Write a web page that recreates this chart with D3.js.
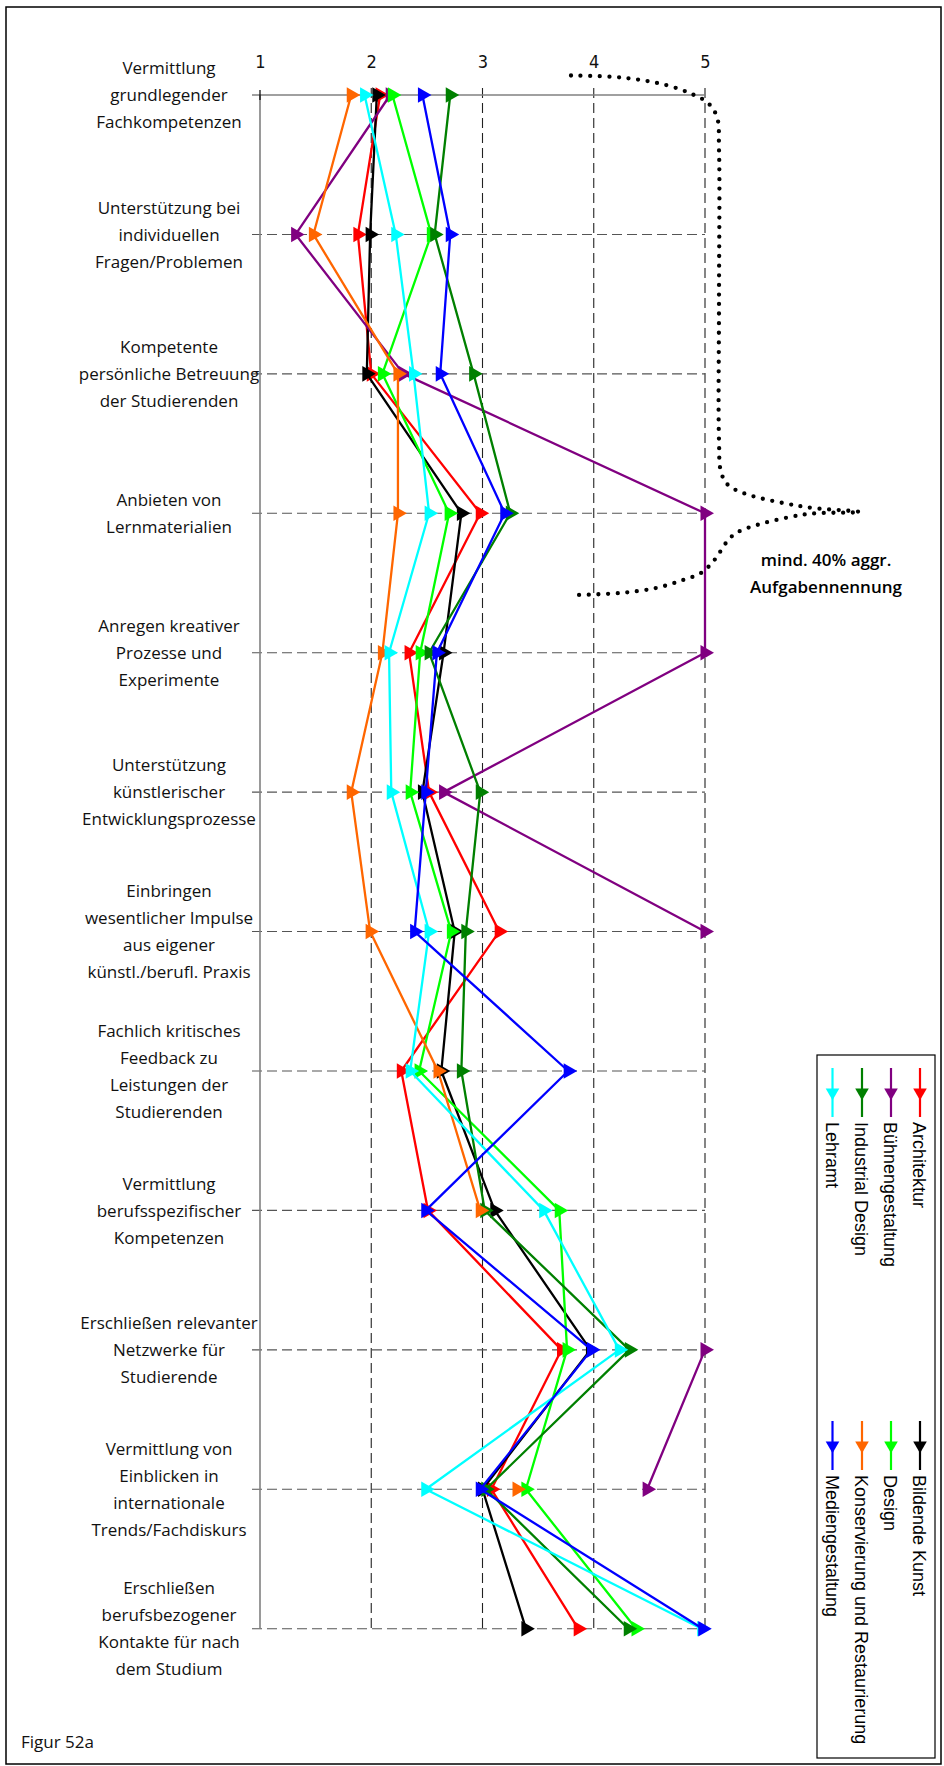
<!DOCTYPE html>
<html>
<head>
<meta charset="utf-8">
<script src="https://cdn.jsdelivr.net/npm/d3@7"></script>
<style>
  html, body { margin: 0; padding: 0; background: #fff; }
  svg { display: block; }
</style>
</head>
<body>
<svg id="chart" width="944" height="1766"></svg>
<script>
// ---------- DATA ----------
const categories = [
  ["Vermittlung", "grundlegender", "Fachkompetenzen"],
  ["Unterstützung bei", "individuellen", "Fragen/Problemen"],
  ["Kompetente", "persönliche Betreuung", "der Studierenden"],
  ["Anbieten von", "Lernmaterialien"],
  ["Anregen kreativer", "Prozesse und", "Experimente"],
  ["Unterstützung", "künstlerischer", "Entwicklungsprozesse"],
  ["Einbringen", "wesentlicher Impulse", "aus eigener", "künstl./berufl. Praxis"],
  ["Fachlich kritisches", "Feedback zu", "Leistungen der", "Studierenden"],
  ["Vermittlung", "berufsspezifischer", "Kompetenzen"],
  ["Erschließen relevanter", "Netzwerke für", "Studierende"],
  ["Vermittlung von", "Einblicken in", "internationale", "Trends/Fachdiskurs"],
  ["Erschließen", "berufsbezogener", "Kontakte für nach", "dem Studium"]
];
const tickLabels = [1, 2, 3, 4, 5];

const seriesNames = ["Architektur", "Bildende Kunst", "Bühnengestaltung", "Design",
  "Industrial Design", "Konservierung und Restaurierung", "Lehramt", "Mediengestaltung"];
const seriesColors = ["#ff0000", "#000000", "#800080", "#00ff00",
  "#008000", "#ff6600", "#00ffff", "#0000ff"];

const architektur      = [2.08, 1.88, 2.00, 2.98, 2.34, 2.52, 3.15, 2.27, 2.51, 3.71, 3.08, 3.86];
const bildendeKunst    = [2.05, 1.99, 1.96, 2.81, 2.65, 2.46, 2.75, 2.63, 3.11, 3.97, 3.00, 3.39];
const buehnengestaltung= [2.17, 1.32, 2.29, 5.00, 5.00, 2.65, 5.00, null, null, 5.00, 4.48, null];
const design           = [2.19, 2.54, 2.10, 2.70, 2.44, 2.35, 2.72, 2.43, 3.69, 3.76, 3.39, 4.38];
const industrialDesign = [2.71, 2.57, 2.92, 3.25, 2.52, 2.98, 2.85, 2.81, 3.02, 4.32, 3.03, 4.31];
const konservierung    = [1.82, 1.48, 2.24, 2.24, 2.10, 1.82, 1.99, 2.60, 2.98, null, 3.31, null];
const lehramt          = [1.94, 2.22, 2.38, 2.52, 2.16, 2.18, 2.52, 2.35, 3.55, 4.23, 2.49, 4.97];
const mediengestaltung = [2.46, 2.71, 2.62, 3.20, 2.59, 2.49, 2.39, 3.77, 2.49, 3.98, 2.98, 4.98];

const seriesValues = [architektur, bildendeKunst, buehnengestaltung, design,
  industrialDesign, konservierung, lehramt, mediengestaltung];

const annotationLines = ["mind. 40% aggr.", "Aufgabennennung"];
const figureLabel = "Figur 52a";

// ---------- CHART ----------
const svg = d3.select("#chart");
const labelFont = "'Open Sans', 'Noto Sans', sans-serif";

// outer frame
svg.append("rect").attr("x", 6).attr("y", 7).attr("width", 935).attr("height", 1757)
  .attr("fill", "none").attr("stroke", "#000").attr("stroke-width", 1.5);

const x = d3.scaleLinear().domain([1, 5]).range([260, 705]);
const y = d3.scalePoint().domain(d3.range(categories.length)).range([95, 1628.7]);

const g = svg.append("g");

// vertical dashed gridlines
g.selectAll(".vgrid").data(tickLabels.filter(t => t > 1)).join("line")
  .attr("x1", d => x(d)).attr("x2", d => x(d))
  .attr("y1", y(0) - 7).attr("y2", y(categories.length - 1))
  .attr("stroke", "#222").attr("stroke-width", 1.1).attr("stroke-dasharray", "10,5");

// horizontal dashed gridlines (rows 2..12)
g.selectAll(".hgrid").data(d3.range(1, categories.length)).join("line")
  .attr("x1", x(1) - 8).attr("x2", x(5))
  .attr("y1", d => y(d)).attr("y2", d => y(d))
  .attr("stroke", "#555").attr("stroke-width", 1.1).attr("stroke-dasharray", "10,5");

// category axis (x=1) and value axis line (row 1)
g.append("line").attr("x1", x(1)).attr("x2", x(1))
  .attr("y1", y(0)).attr("y2", y(categories.length - 1))
  .attr("stroke", "#808080").attr("stroke-width", 1.6);
g.append("line").attr("x1", x(1) - 8).attr("x2", x(5))
  .attr("y1", y(0)).attr("y2", y(0))
  .attr("stroke", "#808080").attr("stroke-width", 1.6);
g.append("line").attr("x1", x(1)).attr("x2", x(1))
  .attr("y1", y(0) - 5).attr("y2", y(0) + 5)
  .attr("stroke", "#000").attr("stroke-width", 1.2);

// top value axis labels
const axis = d3.axisTop(x).tickValues(tickLabels).tickFormat(d3.format("d"))
  .tickSize(0).tickPadding(27);
const axG = svg.append("g").attr("transform", `translate(0,${y(0)})`).call(axis);
axG.select(".domain").remove();
axG.selectAll("text").attr("font-family", "'Liberation Sans Narrow', 'DejaVu Sans Condensed', sans-serif")
  .attr("font-size", 18).attr("font-weight", 400).attr("fill", "#111");

// category labels
const lineH = 27;
const labG = svg.append("g");
categories.forEach((lines, i) => {
  const t = labG.append("text")
    .attr("x", 169).attr("text-anchor", "middle")
    .attr("font-family", labelFont).attr("font-size", 17).attr("fill", "#111");
  const y0 = y(i) - (lines.length - 1) * lineH / 2;
  lines.forEach((ln, k) => {
    t.append("tspan").attr("x", 169).attr("y", y0 + k * lineH).attr("dy", "0.36em").text(ln);
  });
});

// series lines & markers
const line = d3.line()
  .defined(d => d != null)
  .x(d => x(d))
  .y((d, i) => y(i));
const tri = d3.symbol(d3.symbolTriangle, 105);

seriesValues.forEach((vals, s) => {
  const sg = svg.append("g");
  sg.append("path").attr("d", line(vals))
    .attr("fill", "none").attr("stroke", seriesColors[s]).attr("stroke-width", 2.3)
    .attr("stroke-linejoin", "round");
  sg.selectAll("path.m").data(vals.map((v, i) => ({v, i})).filter(d => d.v != null))
    .join("path").attr("class", "m")
    .attr("d", tri())
    .attr("transform", d => `translate(${x(d.v)},${y(d.i)}) rotate(90)`)
    .attr("fill", seriesColors[s]);
});

// dotted brace
const bracePts = [
  [571, 75.5], [621, 77.5], [666, 85], [694, 95], [708, 103], [717, 117],
  [719, 150], [719, 300], [719, 440], [721, 472], [728, 485], [746, 494],
  [783, 503], [813, 508], [860, 512],
  [813, 513.5], [790, 517], [757, 525], [738, 532], [729, 539], [720, 552],
  [712, 563], [701, 573], [683, 580], [656, 588], [620, 593], [577, 595]
];
svg.append("path")
  .attr("d", d3.line().curve(d3.curveCatmullRom.alpha(0.5))(bracePts))
  .attr("fill", "none").attr("stroke", "#000").attr("stroke-width", 4.3)
  .attr("stroke-linecap", "round").attr("stroke-dasharray", "0,9.6");

// annotation text
const ann = svg.append("text").attr("text-anchor", "middle")
  .attr("font-family", labelFont).attr("font-size", 17).attr("font-weight", 600).attr("fill", "#000");
annotationLines.forEach((ln, k) => {
  ann.append("tspan").attr("x", 826).attr("y", 566 + k * 27).text(ln);
});

// figure label
svg.append("text").attr("x", 21).attr("y", 1748)
  .attr("font-family", labelFont).attr("font-size", 17).attr("fill", "#111").text(figureLabel);

// legend (rotated)
svg.append("rect").attr("x", 817).attr("y", 1055).attr("width", 118).attr("height", 703)
  .attr("fill", "#fff").attr("stroke", "#000").attr("stroke-width", 1.2);
const colX = [920, 891, 862, 832.5];
const groupY = [1068, 1421];
const legTri = d3.symbol(d3.symbolTriangle, 80);
seriesNames.forEach((name, s) => {
  const grp = s % 2;           // 0: first block, 1: second block
  const col = Math.floor(s / 2);
  const cx = colX[col];
  const y0 = groupY[grp];
  const lg = svg.append("g");
  lg.append("line").attr("x1", cx).attr("x2", cx).attr("y1", y0).attr("y2", y0 + 49)
    .attr("stroke", seriesColors[s]).attr("stroke-width", 2.2);
  lg.append("path").attr("d", legTri())
    .attr("transform", `translate(${cx},${y0 + 24.5}) rotate(180)`)
    .attr("fill", seriesColors[s]);
  lg.append("text")
    .attr("transform", `translate(${cx - 1},${y0 + 54}) rotate(90)`)
    .attr("dominant-baseline", "central")
    .attr("font-family", "'Liberation Sans', Arial, sans-serif").attr("font-size", 18)
    .attr("fill", "#000").text(name);
});
</script>
</body>
</html>
